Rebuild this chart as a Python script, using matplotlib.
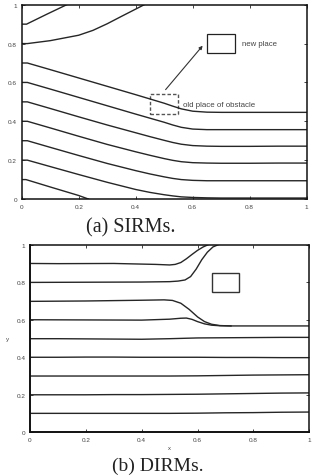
import matplotlib
matplotlib.use("Agg")
import matplotlib.pyplot as plt
from matplotlib.patches import Rectangle

# ---------------- data: (a) SIRMs ----------------
sirm_x = [0, 0.02, 0.1, 0.2, 0.3, 0.4, 0.45, 0.5, 0.53, 0.56, 0.6, 0.65, 0.7, 0.8, 0.9, 1.0]
sirm_y07 = [0.70, 0.70, 0.666, 0.623, 0.580, 0.537, 0.515, 0.493, 0.478, 0.464, 0.452, 0.447, 0.446, 0.446, 0.446, 0.446]
sirm_y06 = [0.60, 0.60, 0.566, 0.523, 0.480, 0.437, 0.416, 0.395, 0.381, 0.369, 0.360, 0.357, 0.357, 0.357, 0.357, 0.357]
sirm_y05 = [0.50, 0.50, 0.466, 0.423, 0.381, 0.341, 0.321, 0.302, 0.291, 0.282, 0.275, 0.272, 0.271, 0.271, 0.272, 0.272]
sirm_y04 = [0.40, 0.40, 0.366, 0.323, 0.281, 0.243, 0.225, 0.208, 0.199, 0.192, 0.187, 0.185, 0.184, 0.184, 0.185, 0.185]
sirm_y03 = [0.30, 0.30, 0.266, 0.224, 0.183, 0.146, 0.129, 0.114, 0.106, 0.100, 0.096, 0.094, 0.094, 0.094, 0.094, 0.094]
sirm_y02 = [0.20, 0.20, 0.167, 0.126, 0.086, 0.049, 0.034, 0.022, 0.016, 0.011, 0.008, 0.006, 0.005, 0.005, 0.005, 0.005]
sirm_x01 = [0, 0.015, 0.1, 0.2, 0.234]
sirm_y01 = [0.10, 0.10, 0.062, 0.018, 0.0]
sirm_x09 = [0, 0.017, 0.088, 0.158]
sirm_y09 = [0.90, 0.90, 0.951, 1.0]
sirm_x08 = [0, 0.02, 0.1, 0.2, 0.25, 0.3, 0.35, 0.43]
sirm_y08 = [0.80, 0.80, 0.815, 0.843, 0.868, 0.902, 0.94, 1.0]

new_box = (0.65, 0.75, 0.10, 0.10)   # x, y, w, h
old_box = (0.45, 0.44, 0.10, 0.10)
arrow_start = (0.505, 0.563)
arrow_end = (0.635, 0.789)

# ---------------- data: (b) DIRMs ----------------
dirm_xa = [0, 0.1, 0.2, 0.3, 0.4, 0.5, 0.6, 0.7, 0.8, 0.9, 1.0]
dirm_y01 = [0.101, 0.101, 0.101, 0.101, 0.101, 0.101, 0.102, 0.104, 0.105, 0.107, 0.108]
dirm_y02 = [0.200, 0.200, 0.200, 0.201, 0.201, 0.202, 0.203, 0.205, 0.207, 0.209, 0.210]
dirm_y03 = [0.300, 0.300, 0.300, 0.300, 0.300, 0.300, 0.301, 0.303, 0.305, 0.306, 0.307]
dirm_y04 = [0.400, 0.400, 0.401, 0.401, 0.400, 0.400, 0.400, 0.399, 0.399, 0.398, 0.398]
dirm_y05 = [0.499, 0.499, 0.498, 0.497, 0.496, 0.499, 0.503, 0.504, 0.505, 0.506, 0.506]

dirm_x06 = [0, 0.2, 0.4, 0.5, 0.54, 0.56, 0.58, 0.6, 0.625, 0.65, 0.68, 0.72, 0.8, 1.0]
dirm_y06 = [0.600, 0.599, 0.598, 0.603, 0.608, 0.609, 0.602, 0.590, 0.578, 0.571, 0.568, 0.567, 0.567, 0.567]
dirm_x07 = [0, 0.2, 0.3, 0.4, 0.48, 0.51, 0.54, 0.57, 0.6, 0.625, 0.65, 0.68, 0.72]
dirm_y07 = [0.698, 0.700, 0.702, 0.704, 0.706, 0.703, 0.688, 0.655, 0.615, 0.590, 0.576, 0.569, 0.567]
dirm_x08 = [0, 0.2, 0.4, 0.5, 0.53, 0.555, 0.575, 0.595, 0.615, 0.635, 0.655, 0.674]
dirm_y08 = [0.799, 0.800, 0.801, 0.803, 0.806, 0.812, 0.830, 0.870, 0.920, 0.960, 0.988, 1.0]
dirm_x09 = [0, 0.1, 0.3, 0.45, 0.5, 0.52, 0.54, 0.56, 0.58, 0.6, 0.62, 0.638]
dirm_y09 = [0.900, 0.899, 0.900, 0.895, 0.892, 0.895, 0.905, 0.925, 0.948, 0.970, 0.988, 1.0]

dirm_box = (0.65, 0.75, 0.10, 0.10)

ticks = [0, 0.2, 0.4, 0.6, 0.8, 1]
tick_labels = ["0", "0.2", "0.4", "0.6", "0.8", "1"]

# ---------------- figure ----------------
plt.rcParams['font.family'] = ['Liberation Sans', 'DejaVu Sans']
fig = plt.figure(figsize=(3.13, 4.77), dpi=100)

line_c = '#262626'
line_w = 1.0


def style_axes(ax):
    ax.set_xlim(0, 1)
    ax.set_ylim(0, 1)
    ax.set_xticks(ticks)
    ax.set_yticks(ticks)
    ax.set_xticklabels(tick_labels)
    ax.set_yticklabels(tick_labels)
    ax.tick_params(direction='in', length=2, width=0.6, top=True, right=True,
                   labelsize=4.6, labelcolor='#444444', pad=3.4, color='#222222')
    for s in ax.spines.values():
        s.set_linewidth(1.1)
        s.set_color('#111111')


# (a) SIRMs
ax1 = fig.add_axes([0.0693, 0.5807, 0.9105, 0.4073])
for ys in [sirm_y07, sirm_y06, sirm_y05, sirm_y04, sirm_y03, sirm_y02]:
    ax1.plot(sirm_x, ys, color=line_c, lw=line_w, clip_on=True)
ax1.plot(sirm_x01, sirm_y01, color=line_c, lw=line_w)
ax1.plot(sirm_x09, sirm_y09, color=line_c, lw=line_w)
ax1.plot(sirm_x08, sirm_y08, color=line_c, lw=line_w)
ax1.add_patch(Rectangle(new_box[:2], new_box[2], new_box[3], fill=False,
                        edgecolor='#222222', lw=0.9))
ax1.add_patch(Rectangle(old_box[:2], old_box[2], old_box[3], fill=False,
                        edgecolor='#555555', lw=1.0, linestyle=(0, (2.5, 1.5))))
ax1.annotate('', xy=arrow_end, xytext=arrow_start,
             arrowprops=dict(arrowstyle='-|>', color='#333333', lw=0.8,
                             mutation_scale=5, shrinkA=0, shrinkB=0))
ax1.text(0.772, 0.80, 'new place', fontsize=5.6, color='#444444', va='center', ha='left')
ax1.text(0.565, 0.484, 'old place of obstacle', fontsize=5.7, color='#444444',
         va='center', ha='left')
style_axes(ax1)

fig.text(0.417, 1 - 228 / 477, '(a) SIRMs.', fontsize=14.5, family='Liberation Serif',
         ha='center', va='center', color='#222222')

# (b) DIRMs
ax2 = fig.add_axes([0.0958, 0.0916, 0.8924, 0.3933])
for ys in [dirm_y01, dirm_y02, dirm_y03, dirm_y04, dirm_y05]:
    ax2.plot(dirm_xa, ys, color=line_c, lw=line_w)
ax2.plot(dirm_x06, dirm_y06, color=line_c, lw=line_w)
ax2.plot(dirm_x07, dirm_y07, color=line_c, lw=line_w)
ax2.plot(dirm_x08, dirm_y08, color=line_c, lw=line_w)
ax2.plot(dirm_x09, dirm_y09, color=line_c, lw=line_w)
ax2.add_patch(Rectangle(dirm_box[:2], dirm_box[2], dirm_box[3], fill=False,
                        edgecolor='#333333', lw=1.0))
style_axes(ax2)
ax2.set_xlabel('x', fontsize=4.2, color='#444444', labelpad=2)
ax2.set_ylabel('y', fontsize=4.5, color='#444444', rotation=0, labelpad=6, va='center')
for s in ['left', 'bottom']:
    ax2.spines[s].set_linewidth(1.4)

fig.text(0.505, 0.004, '(b) DIRMs.', fontsize=14, family='Liberation Serif',
         ha='center', va='bottom', color='#222222')

fig.savefig('out.png', dpi=100)
